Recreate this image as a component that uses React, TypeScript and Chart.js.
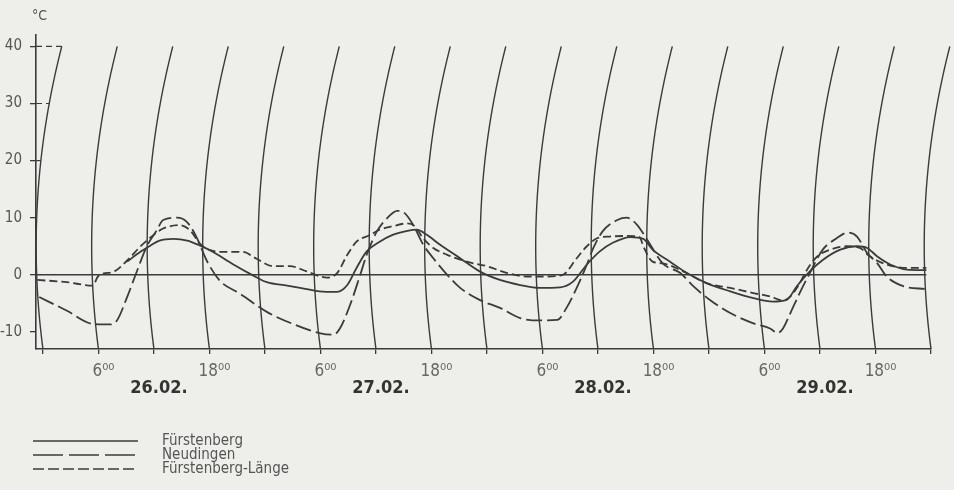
import React, { useEffect, useRef } from 'react';
import { Chart, registerables } from 'chart.js';

Chart.register(...registerables);

// ---- data (hours counted from 26.02. 0:00, temperatures in °C) ----
const seriesNames = ['Fürstenberg', 'Neudingen', 'Fürstenberg-Länge'];
const dateLabels = ['26.02.', '27.02.', '28.02.', '29.02.'];
const hourLabel6 = '6⁰⁰';
const hourLabel18 = '18⁰⁰';
const unitLabel = '°C';
const yTickValues = [-10, 0, 10, 20, 30, 40];
const xTickHours = [0, 6, 12, 18, 24, 30, 36, 42, 48, 54, 60, 66, 72, 78, 84, 90, 96];
const dashedRefTemps = [20, 30, 40];

const fuerstenbergHours = [9.1, 10.5, 11.6, 12.6, 14.1, 15.6, 17.0, 18.4, 20.5, 22.7, 24.2, 26.4, 28.5, 29.9, 31.8, 32.9, 33.9, 35.0, 36.4, 37.8, 39.4, 40.4, 41.5, 42.9, 45.1, 47.2, 49.4, 51.6, 53.7, 55.9, 57.3, 58.8, 60.2, 61.6, 63.5, 64.9, 65.9, 67.8, 69.6, 71.8, 74.3, 76.8, 78.9, 80.4, 81.5, 82.9, 84.3, 86.2, 88.0, 89.1, 90.2, 91.6, 93.4, 95.5];
const fuerstenbergTemps = [2.3, 4.0, 5.1, 6.0, 6.3, 6.0, 5.1, 4.0, 1.9, -0.1, -1.3, -1.9, -2.5, -2.9, -3.0, -1.8, 1.2, 4.1, 5.8, 7.0, 7.7, 7.9, 7.0, 5.3, 2.9, 0.6, -0.9, -1.8, -2.3, -2.2, -1.2, 1.8, 4.1, 5.6, 6.6, 6.3, 4.4, 2.3, 0.3, -1.5, -2.9, -4.1, -4.7, -4.4, -2.0, 0.6, 2.6, 4.4, 5.0, 4.7, 3.2, 1.8, 0.9, 0.8];

const neudingenHours = [-0.4, 2.6, 5.4, 7.2, 8.0, 9.1, 10.2, 11.2, 12.3, 13.0, 14.5, 15.6, 16.6, 17.7, 19.1, 21.3, 24.2, 27.0, 29.9, 31.4, 32.1, 33.2, 34.3, 35.0, 36.1, 37.2, 38.3, 39.1, 40.0, 41.1, 42.2, 43.7, 45.1, 47.2, 49.4, 51.6, 53.7, 55.6, 56.6, 57.7, 58.8, 59.5, 60.5, 62.1, 63.1, 64.2, 65.3, 67.0, 68.9, 70.3, 72.1, 74.3, 76.8, 78.6, 79.4, 80.0, 80.8, 81.8, 82.9, 84.3, 85.8, 87.0, 88.0, 89.1, 90.2, 91.2, 93.0, 95.5];
const neudingenTemps = [-3.9, -6.3, -8.6, -8.7, -8.0, -3.9, 0.8, 4.9, 7.8, 9.6, 10.0, 9.2, 6.6, 2.5, -1.0, -3.3, -6.5, -8.6, -10.2, -10.5, -9.4, -5.3, 0.0, 3.5, 7.6, 9.9, 11.2, 10.8, 8.8, 5.3, 2.9, 0.0, -2.3, -4.4, -5.8, -7.6, -8.0, -7.9, -5.8, -2.3, 1.8, 4.7, 7.6, 9.6, 10.0, 8.8, 6.2, 2.0, 0.3, -2.0, -4.4, -6.7, -8.5, -9.4, -10.2, -9.4, -6.7, -3.2, 0.3, 4.4, 6.4, 7.4, 6.7, 3.8, 2.0, -0.3, -2.0, -2.5];

const laengeHours = [-0.6, 2.6, 5.4, 5.9, 6.5, 7.6, 9.1, 10.5, 11.9, 13.0, 14.8, 15.9, 17.0, 18.1, 19.9, 21.6, 23.1, 24.9, 26.7, 28.5, 30.7, 31.8, 32.9, 33.9, 35.4, 36.4, 37.8, 39.4, 40.2, 41.1, 42.2, 43.7, 45.8, 48.0, 50.2, 52.3, 54.5, 56.2, 57.7, 58.8, 59.9, 61.3, 63.1, 64.5, 64.9, 65.9, 67.0, 69.2, 71.8, 74.3, 76.8, 78.6, 80.0, 80.8, 81.8, 82.6, 83.7, 85.1, 86.9, 88.3, 89.4, 91.2, 93.4, 95.5];
const laengeTemps = [-0.9, -1.3, -1.9, -0.4, 0.2, 0.5, 2.5, 4.9, 6.9, 8.1, 8.7, 7.8, 5.4, 4.3, 4.0, 4.0, 2.8, 1.5, 1.5, 0.6, -0.5, 0.3, 3.5, 5.8, 7.0, 7.9, 8.5, 9.0, 8.5, 6.4, 4.7, 3.5, 2.3, 1.5, 0.3, -0.3, -0.3, 0.0, 2.9, 5.0, 6.4, 6.7, 6.8, 6.6, 5.0, 2.3, 2.0, 0.6, -1.5, -2.3, -3.2, -3.8, -4.5, -3.8, -1.5, 0.9, 3.2, 4.4, 5.0, 4.7, 3.2, 1.8, 1.2, 1.2];

// ---- styles ----
const INK = '#3b3b3b';
const TEXT = '#555555';
const BG = '#eeeeeb';
const FONT = "'Liberation Sans Narrow', 'DejaVu Sans Condensed', 'Liberation Sans', Arial, sans-serif";
const Y_MIN = -13;
const Y_MAX = 42;
const X_MIN = -0.75;
const X_MAX = 96;
const ARC_RADIUS = 780;
const ARC_CENTER_T = 5;
const ARC_TOP_T = 40;

const chartDash = [[], [16, 5], [8, 4]];
const legendDash = [[], [30, 6], [11, 4]];

function toPoints(hours: number[], temps: number[]) {
  return hours.map((h, i) => ({ x: h, y: temps[i] }));
}

function arcX(chart: any, t: number, T: number) {
  const xs = chart.scales.x;
  const ys = chart.scales.y;
  const yb = chart.chartArea.bottom;
  const yc = ys.getPixelForValue(ARC_CENTER_T);
  const yp = ys.getPixelForValue(T);
  return xs.getPixelForValue(t) + ((yp - yc) ** 2 - (yb - yc) ** 2) / (2 * ARC_RADIUS);
}

const thermoGrid = {
  id: 'thermoGrid',
  beforeDatasetsDraw(chart: any) {
    const { ctx, chartArea } = chart;
    const ys = chart.scales.y;
    const xs = chart.scales.x;
    ctx.save();
    ctx.strokeStyle = INK;
    // curved hour lines
    ctx.lineWidth = 1.4;
    ctx.setLineDash([]);
    xTickHours.forEach((t) => {
      ctx.beginPath();
      for (let T = Y_MIN; T <= ARC_TOP_T + 0.001; T += 0.5) {
        const px = arcX(chart, t, T);
        const py = ys.getPixelForValue(T);
        if (T === Y_MIN) ctx.moveTo(px, py);
        else ctx.lineTo(px, py);
      }
      ctx.stroke();
    });
    // zero line
    const lastHour = Math.max(...fuerstenbergHours, ...neudingenHours, ...laengeHours);
    ctx.lineWidth = 1.4;
    ctx.beginPath();
    ctx.moveTo(chartArea.left, ys.getPixelForValue(0));
    ctx.lineTo(xs.getPixelForValue(lastHour), ys.getPixelForValue(0));
    ctx.stroke();
    // dashed reference ticks to first arc
    ctx.lineWidth = 1.2;
    ctx.setLineDash([6, 4]);
    dashedRefTemps.forEach((T) => {
      const py = ys.getPixelForValue(T);
      ctx.beginPath();
      ctx.moveTo(chartArea.left, py);
      ctx.lineTo(arcX(chart, 0, T), py);
      ctx.stroke();
    });
    ctx.restore();
  },
  afterDraw(chart: any) {
    const { ctx, chartArea } = chart;
    ctx.save();
    // unit label
    ctx.fillStyle = TEXT;
    ctx.font = `14px ${FONT}`;
    ctx.textAlign = 'left';
    ctx.textBaseline = 'middle';
    ctx.fillText(unitLabel, chartArea.left - 4, 16);
    // legend
    const lx0 = 33;
    const lx1 = 138;
    const tx = 162;
    const y0 = 441;
    const dy = 14;
    chart.data.datasets.forEach((ds: any, i: number) => {
      const y = y0 + i * dy;
      ctx.strokeStyle = INK;
      ctx.lineWidth = 1.5;
      ctx.setLineDash(legendDash[i]);
      ctx.beginPath();
      ctx.moveTo(lx0, y);
      ctx.lineTo(lx1, y);
      ctx.stroke();
      ctx.setLineDash([]);
      ctx.fillStyle = TEXT;
      ctx.font = `15px ${FONT}`;
      ctx.fillText(ds.label, tx, y);
    });
    ctx.restore();
  },
};

export default function App() {
  const canvasRef = useRef<HTMLCanvasElement | null>(null);

  useEffect(() => {
    if (!canvasRef.current) return;
    const seriesData = [
      toPoints(fuerstenbergHours, fuerstenbergTemps),
      toPoints(neudingenHours, neudingenTemps),
      toPoints(laengeHours, laengeTemps),
    ];
    const chart = new Chart(canvasRef.current, {
      type: 'line',
      data: {
        datasets: seriesNames.map((name, i) => ({
          label: name,
          data: seriesData[i],
          borderColor: INK,
          borderWidth: 1.8,
          borderDash: chartDash[i],
          pointRadius: 0,
          fill: false,
          cubicInterpolationMode: 'monotone' as const,
        })),
      },
      options: {
        animation: false,
        responsive: false,
        devicePixelRatio: 1,
        layout: { padding: { left: 0, right: 23, top: 35, bottom: 0 } },
        plugins: { legend: { display: false }, tooltip: { enabled: false } },
        scales: {
          x: {
            type: 'linear',
            min: X_MIN,
            max: X_MAX,
            afterBuildTicks: (s: any) => {
              s.ticks = xTickHours.map((v) => ({ value: v }));
            },
            afterFit: (s: any) => {
              s.height = 141;
            },
            grid: { display: true, drawOnChartArea: false, drawTicks: true, tickLength: 5, color: INK, lineWidth: 1.3 },
            border: { display: true, color: INK, width: 1.5 },
            ticks: {
              autoSkip: false,
              maxRotation: 0,
              padding: 7,
              labelOffset: 5,
              color: (c: any) => (c.tick && c.tick.value % 24 === 12 ? '#333333' : '#666666'),
              font: (c: any) =>
                c.tick && c.tick.value % 24 === 12
                  ? { family: FONT, size: 18, weight: 'bold', lineHeight: 1.0 }
                  : { family: FONT, size: 17, lineHeight: 1.2 },
              callback: (v: any) => {
                const h = Number(v);
                const hh = ((h % 24) + 24) % 24;
                if (hh === 6) return hourLabel6;
                if (hh === 18) return hourLabel18;
                if (hh === 12) return ['', dateLabels[Math.floor(h / 24)] || ''];
                return '';
              },
            },
          },
          y: {
            type: 'linear',
            min: Y_MIN,
            max: Y_MAX,
            afterBuildTicks: (s: any) => {
              s.ticks = yTickValues.map((v) => ({ value: v }));
            },
            afterFit: (s: any) => {
              s.width = 36;
            },
            grid: { display: true, drawOnChartArea: false, drawTicks: true, tickLength: 6, color: INK, lineWidth: 1.3 },
            border: { display: true, color: INK, width: 1.6 },
            ticks: {
              padding: 8,
              color: TEXT,
              font: { family: FONT, size: 15 },
              callback: (v: any) => String(v),
            },
          },
        },
      },
      plugins: [thermoGrid],
    });
    return () => chart.destroy();
  }, []);

  return (
    <div style={{ position: 'fixed', left: 0, top: 0, width: 954, height: 490, background: BG }}>
      <canvas ref={canvasRef} width={954} height={490} style={{ display: 'block', width: 954, height: 490 }} />
    </div>
  );
}
